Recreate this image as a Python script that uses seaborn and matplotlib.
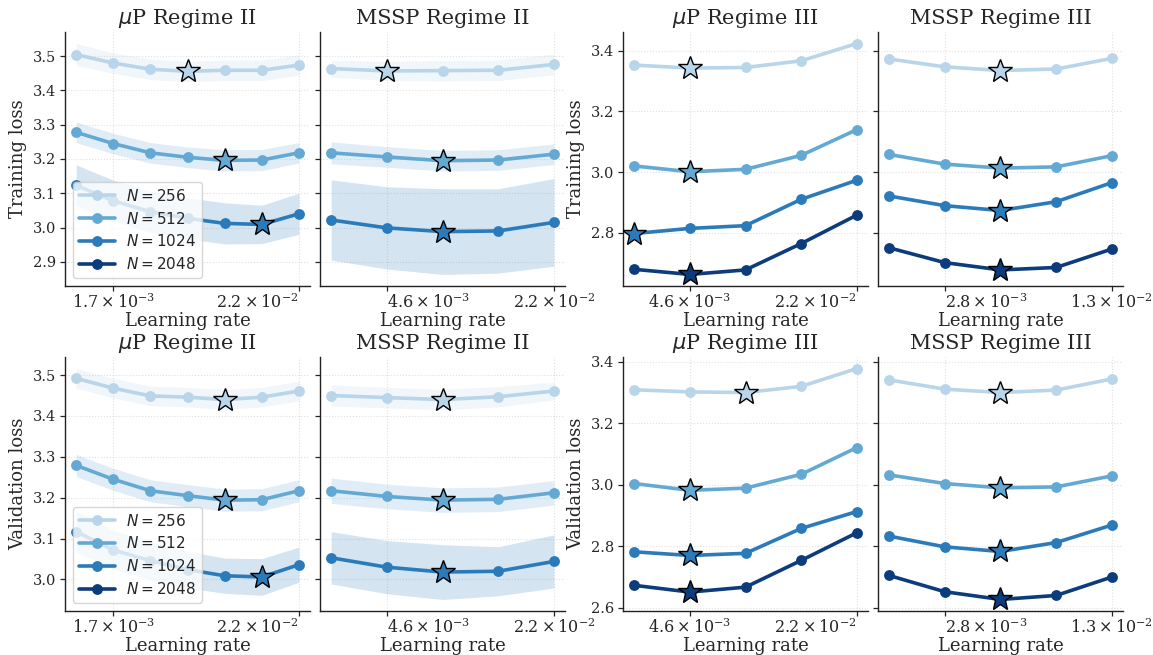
import numpy as np
import pandas as pd
import matplotlib
matplotlib.use("Agg")
import matplotlib.pyplot as plt
import seaborn as sns
from matplotlib.lines import Line2D
from matplotlib.ticker import MultipleLocator

# ---------------- data ----------------
LR = [1.0e-3, 1.668e-3, 2.783e-3, 4.642e-3, 7.743e-3, 1.292e-2, 2.154e-2]
N_VALUES = [256, 512, 1024, 2048]
COLORS = ["#b8d5ea", "#64a9d4", "#2b7bba", "#0c3c7c"]
LR_TICK_LABELS = {
    1: r"$\mathdefault{1.7\times10^{-3}}$",
    2: r"$\mathdefault{2.8\times10^{-3}}$",
    3: r"$\mathdefault{4.6\times10^{-3}}$",
    5: r"$\mathdefault{1.3\times10^{-2}}$",
    6: r"$\mathdefault{2.2\times10^{-2}}$",
}

# Training loss
train_mup2_256 = [3.505, 3.480, 3.462, 3.456, 3.459, 3.459, 3.474]
train_mup2_512 = [3.278, 3.245, 3.218, 3.205, 3.196, 3.197, 3.218]
train_mup2_1024 = [3.123, 3.078, 3.046, 3.027, 3.012, 3.009, 3.040]
train_mup2_sd_256 = [0.032, 0.030, 0.030, 0.030, 0.030, 0.030, 0.030]
train_mup2_sd_512 = [0.030, 0.030, 0.030, 0.030, 0.031, 0.031, 0.030]
train_mup2_sd_1024 = [0.060, 0.060, 0.060, 0.060, 0.060, 0.056, 0.060]

train_mssp2_256 = [3.464, 3.457, 3.458, 3.459, 3.476]
train_mssp2_512 = [3.218, 3.206, 3.195, 3.197, 3.214]
train_mssp2_1024 = [3.022, 2.999, 2.988, 2.990, 3.015]
train_mssp2_sd_256 = [0.025, 0.028, 0.030, 0.030, 0.030]
train_mssp2_sd_512 = [0.032, 0.030, 0.030, 0.030, 0.030]
train_mssp2_sd_1024 = [0.117, 0.120, 0.125, 0.123, 0.128]

train_mup3_256 = [3.353, 3.343, 3.345, 3.367, 3.424]
train_mup3_512 = [3.020, 3.001, 3.009, 3.055, 3.140]
train_mup3_1024 = [2.797, 2.814, 2.823, 2.910, 2.973]
train_mup3_2048 = [2.679, 2.662, 2.677, 2.764, 2.858]

train_mssp3_256 = [3.373, 3.347, 3.335, 3.340, 3.375]
train_mssp3_512 = [3.058, 3.026, 3.013, 3.017, 3.054]
train_mssp3_1024 = [2.921, 2.889, 2.873, 2.902, 2.965]
train_mssp3_2048 = [2.750, 2.701, 2.677, 2.685, 2.746]

# Validation loss
val_mup2_256 = [3.492, 3.468, 3.449, 3.446, 3.440, 3.446, 3.461]
val_mup2_512 = [3.279, 3.245, 3.217, 3.205, 3.194, 3.195, 3.217]
val_mup2_1024 = [3.117, 3.072, 3.046, 3.024, 3.009, 3.006, 3.036]
val_mup2_sd_256 = [0.024, 0.024, 0.024, 0.024, 0.024, 0.024, 0.024]
val_mup2_sd_512 = [0.027, 0.027, 0.027, 0.027, 0.027, 0.027, 0.027]
val_mup2_sd_1024 = [0.050, 0.048, 0.046, 0.045, 0.043, 0.045, 0.043]

val_mssp2_256 = [3.450, 3.445, 3.440, 3.447, 3.461]
val_mssp2_512 = [3.217, 3.203, 3.194, 3.196, 3.212]
val_mssp2_1024 = [3.053, 3.030, 3.018, 3.020, 3.044]
val_mssp2_sd_256 = [0.026, 0.025, 0.025, 0.025, 0.022]
val_mssp2_sd_512 = [0.031, 0.030, 0.030, 0.030, 0.030]
val_mssp2_sd_1024 = [0.064, 0.065, 0.067, 0.060, 0.065]

val_mup3_256 = [3.309, 3.302, 3.300, 3.320, 3.378]
val_mup3_512 = [3.004, 2.982, 2.989, 3.034, 3.121]
val_mup3_1024 = [2.782, 2.770, 2.777, 2.858, 2.913]
val_mup3_2048 = [2.673, 2.651, 2.667, 2.754, 2.844]

val_mssp3_256 = [3.341, 3.311, 3.300, 3.308, 3.344]
val_mssp3_512 = [3.032, 3.004, 2.990, 2.993, 3.029]
val_mssp3_1024 = [2.833, 2.798, 2.783, 2.812, 2.869]
val_mssp3_2048 = [2.705, 2.652, 2.627, 2.640, 2.700]

# ---------------- style ----------------
sns.set_style("ticks")
plt.rcParams["font.family"] = "serif"
plt.rcParams["font.serif"] = ["DejaVu Serif"]
plt.rcParams["mathtext.fontset"] = "dejavusans"

color_of = dict(zip(N_VALUES, COLORS))
LW = 2.6
MS = 7.8
STAR_MS = 18

fig = plt.figure(figsize=(11.53, 6.55), dpi=100)

col_left = [65, 320, 623, 878]
col_w = 245
row_top = [32, 357]
row_h = 254
W, H = 1153, 655


def make_ax(r, c, sharey=None):
    rect = [col_left[c] / W, (H - row_top[r] - row_h) / H, col_w / W, row_h / H]
    ax = fig.add_axes(rect, sharey=sharey)
    return ax


def draw(ax, idx, series, bands, title, tick_idx, ylabel, step, tick_ha,
         legend=False):
    lrs = [LR[i] for i in idx]
    ax.set_xscale("log")
    rows = []
    for n, vals in series.items():
        for x, y in zip(lrs, vals):
            rows.append((x, y, f"N={n}"))
    df = pd.DataFrame(rows, columns=["lr", "loss", "N"])
    order = [f"N={n}" for n in series]
    pal = {f"N={n}": color_of[n] for n in series}
    for n, sd in bands.items():
        v = np.array(series[n])
        s = np.array(sd)
        ax.fill_between(lrs, v - s, v + s, color=color_of[n], alpha=0.2,
                        linewidth=0, zorder=1)
    sns.lineplot(data=df, x="lr", y="loss", hue="N", hue_order=order,
                 palette=pal, marker="o", markersize=MS, markeredgewidth=0,
                 linewidth=LW, legend=False, ax=ax, zorder=2)
    for n, vals in series.items():
        i = int(np.argmin(vals))
        ax.plot([lrs[i]], [vals[i]], marker="*", markersize=STAR_MS,
                color=color_of[n], markeredgecolor="black",
                markeredgewidth=1.0, linestyle="none", zorder=5)
    ax.set_xticks([LR[i] for i in tick_idx],
                  labels=[LR_TICK_LABELS[i] for i in tick_idx])
    for lab, ha in zip(ax.get_xticklabels(), tick_ha):
        lab.set_horizontalalignment(ha)
    ax.xaxis.set_minor_locator(matplotlib.ticker.NullLocator())
    ax.yaxis.set_major_locator(MultipleLocator(step))
    ax.set_title(title, fontsize=15, pad=6)
    ax.set_xlabel("Learning rate", fontsize=13, labelpad=0)
    ax.set_ylabel(ylabel if ylabel else "", fontsize=13, labelpad=4)
    ax.grid(True, linestyle=":", color="#e0e0e0", linewidth=0.8)
    ax.tick_params(axis="y", labelsize=10.5, length=3.5, width=0.9, pad=3)
    ax.tick_params(axis="x", labelsize=11.5, length=3.5, width=0.9, pad=2)
    for sp in ["top", "right"]:
        ax.spines[sp].set_visible(False)
    for sp in ["left", "bottom"]:
        ax.spines[sp].set_color("#222222")
        ax.spines[sp].set_linewidth(1.0)
    if legend:
        handles = [Line2D([], [], color=color_of[n], marker="o", lw=LW,
                          ms=MS, markeredgewidth=0, label=f"$N = {n}$")
                   for n in N_VALUES]
        ax.legend(handles=handles, loc="lower left", fontsize=11,
                  framealpha=0.8, handlelength=2.4, labelspacing=0.45,
                  borderpad=0.4, handletextpad=0.7)


panels = [
    ("Training loss", [
        (range(0, 7), {256: train_mup2_256, 512: train_mup2_512, 1024: train_mup2_1024},
         {256: train_mup2_sd_256, 512: train_mup2_sd_512, 1024: train_mup2_sd_1024},
         r"$\mu$P Regime II", [1, 6], 0.1),
        (range(2, 7), {256: train_mssp2_256, 512: train_mssp2_512, 1024: train_mssp2_1024},
         {256: train_mssp2_sd_256, 512: train_mssp2_sd_512, 1024: train_mssp2_sd_1024},
         "MSSP Regime II", [3, 6], 0.1),
        (range(2, 7), {256: train_mup3_256, 512: train_mup3_512, 1024: train_mup3_1024,
                       2048: train_mup3_2048}, {}, r"$\mu$P Regime III", [3, 6], 0.2),
        (range(1, 6), {256: train_mssp3_256, 512: train_mssp3_512, 1024: train_mssp3_1024,
                       2048: train_mssp3_2048}, {}, "MSSP Regime III", [2, 5], 0.2),
    ]),
    ("Validation loss", [
        (range(0, 7), {256: val_mup2_256, 512: val_mup2_512, 1024: val_mup2_1024},
         {256: val_mup2_sd_256, 512: val_mup2_sd_512, 1024: val_mup2_sd_1024},
         r"$\mu$P Regime II", [1, 6], 0.1),
        (range(2, 7), {256: val_mssp2_256, 512: val_mssp2_512, 1024: val_mssp2_1024},
         {256: val_mssp2_sd_256, 512: val_mssp2_sd_512, 1024: val_mssp2_sd_1024},
         "MSSP Regime II", [3, 6], 0.1),
        (range(2, 7), {256: val_mup3_256, 512: val_mup3_512, 1024: val_mup3_1024,
                       2048: val_mup3_2048}, {}, r"$\mu$P Regime III", [3, 6], 0.2),
        (range(1, 6), {256: val_mssp3_256, 512: val_mssp3_512, 1024: val_mssp3_1024,
                       2048: val_mssp3_2048}, {}, "MSSP Regime III", [2, 5], 0.2),
    ]),
]

# alignment of the two x tick labels in each column (left panel of a pair
# pulls its right label in, right panel pushes its left label out)
TICK_HA = [("center", "right"), ("left", "center"),
           ("center", "right"), ("left", "center")]

for r, (ylabel, plist) in enumerate(panels):
    ax0 = make_ax(r, 0)
    ax1 = make_ax(r, 1, sharey=ax0)
    ax2 = make_ax(r, 2)
    ax3 = make_ax(r, 3, sharey=ax2)
    axes = [ax0, ax1, ax2, ax3]
    for c, (ax, (idx, series, bands, title, tidx, step)) in enumerate(zip(axes, plist)):
        draw(ax, list(idx), series, bands, title, tidx,
             ylabel if c in (0, 2) else None, step, TICK_HA[c],
             legend=(c == 0))
    for ax in (ax1, ax3):
        ax.tick_params(labelleft=False)

fig.savefig("out.png", dpi=100)
